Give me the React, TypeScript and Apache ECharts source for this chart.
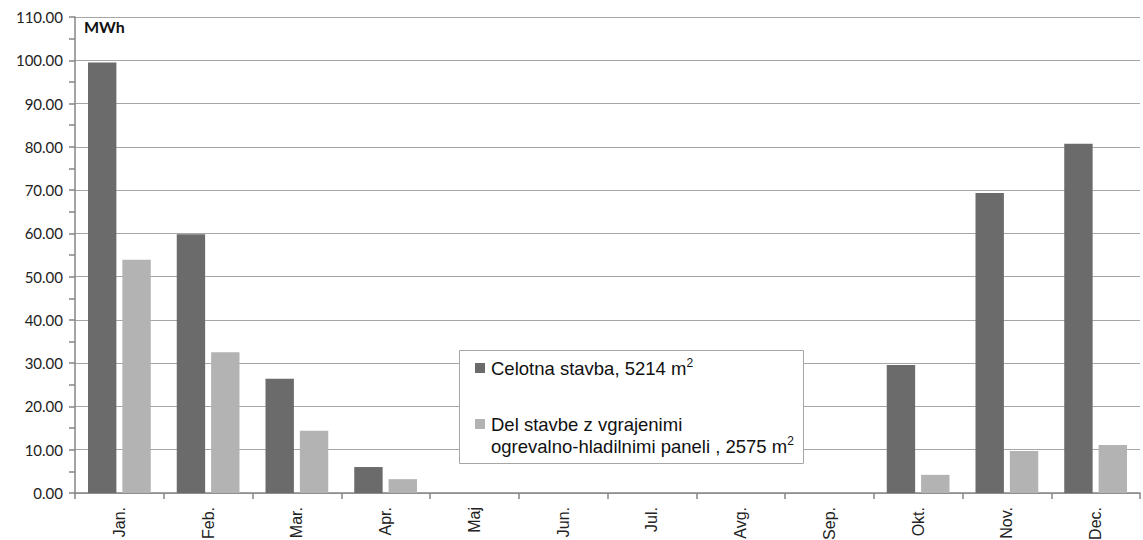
import React, { useEffect, useRef } from "react";
import * as echarts from "echarts";

const categories = ["Jan.", "Feb.", "Mar.", "Apr.", "Maj", "Jun.", "Jul.", "Avg.", "Sep.", "Okt.", "Nov.", "Dec."];
const wholeBuilding = [99.5, 59.8, 26.4, 6.0, 0, 0, 0, 0, 0, 29.6, 69.3, 80.7];
const panelPart = [53.9, 32.5, 14.4, 3.2, 0, 0, 0, 0, 0, 4.2, 9.7, 11.1];
const seriesNames = ["Celotna stavba, 5214 m²", "Del stavbe z vgrajenimi ogrevalno-hladilnimi paneli , 2575 m²"];
const unitLabel = "MWh";

export default function App() {
  const ref = useRef<HTMLDivElement>(null);
  useEffect(() => {
    if (!ref.current) return;
    const chart = echarts.init(ref.current, null, { renderer: "svg" });
    const legendFont = "Liberation Sans";
    const supStyle = { fontFamily: legendFont, fontSize: 12, fill: "#111", verticalAlign: "top", lineHeight: 16 };
    chart.setOption({
      animation: false,
      backgroundColor: "#fff",
      grid: { left: 75, right: 3, top: 17, bottom: 47, containLabel: false, outerBoundsMode: "none" },
      xAxis: {
        type: "category",
        data: categories,
        axisLine: { lineStyle: { color: "#868686", width: 1.5 } },
        axisTick: { show: true, alignWithLabel: false, length: 6, lineStyle: { color: "#868686", width: 1.5 } },
        axisLabel: {
          rotate: 90,
          margin: 14,
          fontFamily: legendFont,
          fontSize: 16,
          color: "#222",
        },
      },
      yAxis: {
        type: "value",
        min: 0,
        max: 110,
        interval: 10,
        axisLine: { show: true, lineStyle: { color: "#868686", width: 1.5 } },
        axisTick: { show: true, length: 6, lineStyle: { color: "#868686", width: 1.5 } },
        minorTick: { show: true, splitNumber: 2, length: 6, lineStyle: { color: "#868686", width: 1.5 } },
        splitLine: { show: true, lineStyle: { color: "#a6a6a6", width: 1 } },
        axisLabel: {
          margin: 12,
          fontFamily: "Lato",
          fontSize: 15,
          color: "#222",
          formatter: (v: number) => v.toFixed(2),
        },
      },
      series: [
        {
          name: seriesNames[0],
          type: "bar",
          data: wholeBuilding,
          barWidth: "32%",
          barGap: "21%",
          itemStyle: { color: "#6b6b6b" },
        },
        {
          name: seriesNames[1],
          type: "bar",
          data: panelPart,
          barWidth: "32%",
          itemStyle: { color: "#b3b3b3" },
        },
      ],
      graphic: [
        {
          type: "text",
          left: 84,
          top: 18,
          style: { text: unitLabel, fontFamily: "Lato", fontWeight: "bold", fontSize: 16, fill: "#111" },
        },
        {
          type: "rect",
          shape: { x: 459.5, y: 350.5, width: 344, height: 113 },
          style: { fill: "#fff", stroke: "#a6a6a6", lineWidth: 1 },
          z: 100,
        },
        {
          type: "rect",
          shape: { x: 475, y: 363, width: 10, height: 10 },
          style: { fill: "#6b6b6b" },
          z: 101,
        },
        {
          type: "rect",
          shape: { x: 475, y: 419, width: 10, height: 10 },
          style: { fill: "#b3b3b3" },
          z: 101,
        },
        {
          type: "text",
          x: 491,
          y: 357,
          z: 101,
          style: {
            text: "Celotna stavba, 5214 m{sup|2}",
            fontFamily: legendFont,
            fontSize: 18.5,
            fill: "#111",
            lineHeight: 22,
            rich: { sup: supStyle },
          },
        },
        {
          type: "text",
          x: 491,
          y: 413,
          z: 101,
          style: {
            text: "Del stavbe z vgrajenimi\nogrevalno-hladilnimi paneli , 2575 m{sup|2}",
            fontFamily: legendFont,
            fontSize: 18.5,
            fill: "#111",
            lineHeight: 22,
            rich: { sup: supStyle },
          },
        },
      ],
    });
    return () => chart.dispose();
  }, []);
  return <div ref={ref} style={{ position: "absolute", left: 0, top: 0, width: 1143, height: 540 }} />;
}
